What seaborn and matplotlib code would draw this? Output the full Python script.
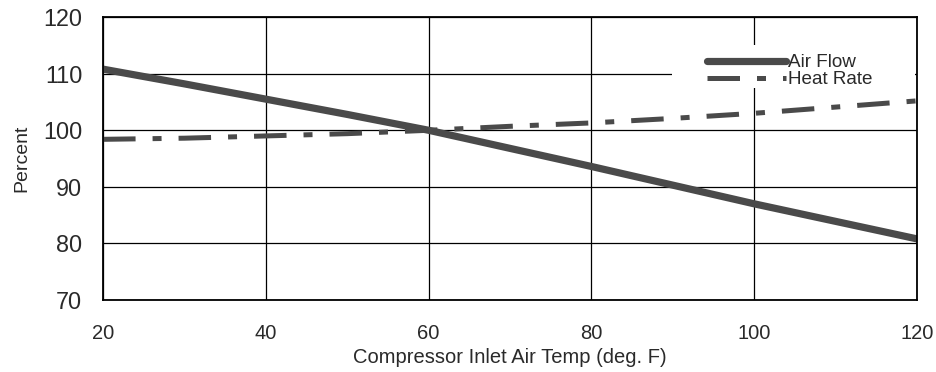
import matplotlib
matplotlib.use("Agg")
import matplotlib.pyplot as plt
from matplotlib.patches import Rectangle
import seaborn as sns
import pandas as pd

temps = [20, 30, 40, 50, 60, 70, 80, 90, 100, 110, 120]
air_flow = [110.8, 108.2, 105.5, 102.8, 100.0, 96.8, 93.6, 90.3, 87.0, 83.9, 80.8]
heat_rate = [98.4, 98.6, 99.0, 99.4, 100.0, 100.7, 101.3, 102.1, 103.0, 104.1, 105.2]
x_ticks = [20, 40, 60, 80, 100, 120]
y_ticks = [70, 80, 90, 100, 110, 120]

sns.set_theme(style="white")
plt.rcParams['font.family'] = ['Liberation Sans', 'DejaVu Sans']

fig = plt.figure(figsize=(9.37, 3.72), dpi=100)
ax = fig.add_axes([0.110, 0.1935, 0.8687, 0.7605])

col = "#4a4a4a"
txt = "#2a2a2a"
df_air = pd.DataFrame({"t": temps, "v": air_flow})
df_heat = pd.DataFrame({"t": temps, "v": heat_rate})
sns.lineplot(data=df_air, x="t", y="v", ax=ax, color=col, linewidth=5.2,
             label="Air Flow", solid_capstyle="round", zorder=3)
sns.lineplot(data=df_heat, x="t", y="v", ax=ax, color=col, linewidth=3.6,
             linestyle=(0, (6.5, 3.4, 1.8, 3.4)), label="Heat Rate", zorder=3)

ax.set_xlim(20, 120)
ax.set_ylim(70, 120)
ax.set_xticks(x_ticks)
ax.set_yticks(y_ticks)
ax.grid(True, color="black", linewidth=0.9)
ax.set_axisbelow(True)
for s in ax.spines.values():
    s.set_visible(True)
    s.set_color("black")
    s.set_linewidth(1.3)
    s.set_zorder(4)
ax.tick_params(axis="x", length=0, pad=17, labelsize=14.5, colors=txt)
ax.tick_params(axis="y", length=0, pad=15, labelsize=16.8, colors=txt)
ax.set_xlabel("Compressor Inlet Air Temp (deg. F)", fontsize=14.5, color=txt, labelpad=4)
ax.set_ylabel("Percent", fontsize=14, color=txt, labelpad=9)

# white legend background covering the gridlines
ax.add_patch(Rectangle((0.699, 0.749), 0.299, 0.152, transform=ax.transAxes,
                       facecolor="white", edgecolor="none", zorder=2))

leg = ax.legend(loc="upper left", bbox_to_anchor=(0.742, 0.870), frameon=False,
                fontsize=13.6, handlelength=4.2, handletextpad=0.1,
                labelspacing=0.0, borderpad=0, borderaxespad=0)
leg.set_zorder(5)
for t in leg.get_texts():
    t.set_color(txt)

fig.savefig("out.png", dpi=100)
